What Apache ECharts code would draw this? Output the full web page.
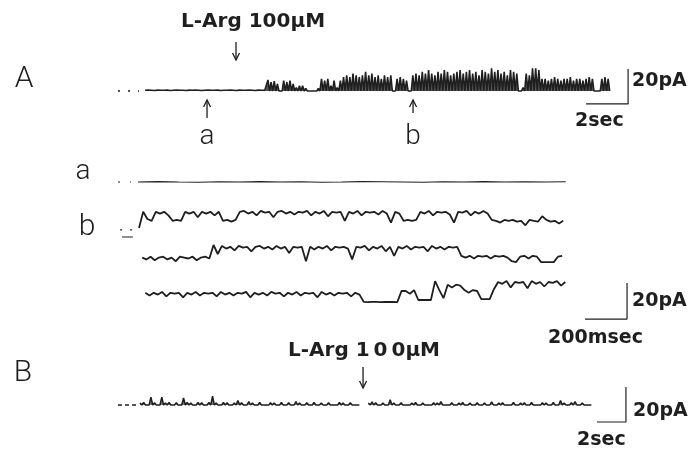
<!DOCTYPE html>
<html>
<head>
<meta charset="utf-8">
<title>L-Arg channel records</title>
<script src="https://cdn.jsdelivr.net/npm/echarts@6/dist/echarts.min.js"></script>
<style>html,body{margin:0;background:#fff;}</style>
</head>
<body>
<div id="main" style="width:694px;height:452px;"></div>
<script>
// trace A: height of openings above baseline (pA), one value every 0.15 s starting at 1.29 s
var tA0 = 1.29, dtA = 0.15;
var ampA = [0.4,0.5,0.4,0.3,0.5,0.4,0.4,0.5,0.3,0.4,0.5,0.4,0.4,0.3,0.5,0.4,0.5,0.4,0.3,0.4,
  0.5,0.4,0.4,0.5,0.3,0.4,0.4,0.5,0.4,0.3,0.5,0.4,0.4,0.5,0.4,0.3,0.5,0.4,
  0.5,6.3,5,5.7,4,1,6,5,6,4,2,3,
  3,1.5,0.5,1,0.5,1.5,
  7,6,7,3,
  6,2,6,
  8,9,8,10,9,8,9,11,9,
  10,
  8,9,7,9,8,9,
  1,
  7,8,7,6,
  1,
  9,10,9,11,10,12,10,9,11,10,12,11,9,10,11,12,
  10,11,12,10,11,9,12,11,10,13,11,12,10,11,9,12,11,10,
  1,2,
  10,9,
  13,13,12,
  7,7,6,7,8,7,6,7,7,8,6,7,7,6,7,8,7,
  0.5,0.5,
  7,8,7];

// trace a (ms, pA)
var ta0 = 95, dta = 97;
var traceSmall = [0,0.2,0,-0.1,0.1,0,0.2,0,0.1,-0.1,0,0.2,0.1,0,-0.1,0.1,0,0.2,0,0.1,0,0.1];

// trace b, three rows, one value every 20 ms (pA above closed level)
var dtb = 20;
var rowStart = [100, 115, 130];
var rowB1 = [5,14,10,9,14,13,14,12,9,9.5,
  9,14,13,14,11,14,13,14,12,14,
  9,9.5,8.5,9.5,14,14.5,13,14,12,14.5,
  13.5,14,11,14,14.5,13,14,12.5,14,13.5,
  14.5,12,14,13,14.5,11.5,14,13.5,14,9,
  14,13,14.5,12,14,13.5,14,12.5,14.5,13,
  8,14,13,9,9.5,9,9.5,14,13,14.5,
  12,14,13.5,14,12.5,8,14,13.5,14.5,12,
  14,13,14.5,13,9.5,9,8,9.5,9,9.5,
  8.5,9,6.5,9.5,9,8.5,11.5,9.5,8.5,9,
  7.5,9];
var rowB2 = [8,7,8.5,6.5,8,8.5,7,8,6,8.5,8,7.5,8.5,6.5,8,8.5,7.5,
  15,10,
  14.5,13,14,12,14.5,13.5,14,11.5,14,14.5,13,14,12.5,14.5,13,14,10.5,14,13.5,14,
  6,14,12.5,14,13,14.5,12,14,13.5,14,13,7,14,13.5,14.5,12,14,13,14.5,11.5,14,
  9,14,13,14.5,12.5,14,13.5,14,11.5,14.5,13,14,12.5,14,13.5,14,
  9,8,9,7.5,9,8.5,9,7.5,9,8.5,9,8,6,5.5,8.5,9,7.5,9,8.5,5.5,5.5,5.5,5.5,8.5,9];
var rowB3 = [14,12.5,14,13,14.5,12,14,13.5,14,11.5,
  14,13,14.5,12.5,14,13.5,14,12,14.5,13,
  14,12.5,14,13.5,14.5,11.5,14,13,14,12.5,
  14.5,13.5,14,12,14,13,14.5,12.5,14,13.5,
  14,11.5,14.5,13,14,12.5,14,13.5,14,12,
  14,13,
  9,8.8,9,9,8.8,9,8.9,9,8.8,
  15,
  15,13.5,15.5,
  10,10,10,10,
  20.5,
  15.5,11,
  18.5,17,18.5,18,
  15.5,14,15.5,15,
  10.5,10.5,10.5,
  16,
  20,19,20.5,17,20,19.5,20,16.5,20.5,19,20,17.5,20,19.5,20.5,18,20];

// trace B: openings (pA), one value every 0.25 s from 1.52 s; null = gap in the record
var tB0 = 1.52, dtB = 0.25;
var ampB = [1.2,1.5,1,4.5,1.3,1,4.5,1.2,1.5,1,
  1.3,1,4,1.5,1.2,1,1.4,1.3,1,1.5,
  5,1.2,1,1.5,1.3,1,1.2,2.5,1.3,1,
  2,1.2,1,1.4,1.1,1,1.3,1.2,1,1.4,
  1.1,1.3,1,2,1.2,1,1.3,1.1,1.4,1,
  1.2,1,1.3,1.1,1,1.4,1.2,1,1.3,1.1,
  1,null,null,1.2,1.8,1.3,1,1.2,1.1,3,
  1.2,1,1.3,1.1,1,1.2,1.4,1,1.2,1.1,
  1,1.3,1.2,2,1,1.1,1.3,1,1.2,1.4,
  1,1.2,1.1,1.3,1,1.2,1.1,1.8,1,1.2,
  1.3,1,1.1,1.5,1,1.2,1.3,1,1.4,1.1,
  1,1.3,1.2,1,1.5,1.1,2.5,1.2,1,1.3,
  2,1.1,1.2,1,1.1];

// event times
var eventsA = { lArg: 5.62, a: 4.24, b: 14.05 };
var eventB = 16.9;

// scale bars: [x length, y length, corner x, corner y]
var barA = [2, 20, 24.29, -7.4];
var barb = [200, 20, 2424, -0.6];
var barB = [2, 20, 35.03, -9.7];

var ink = '#1f1f1f';

function zigzag(t0, dt, tops) {
  var out = [];
  tops.forEach(function (v, i) {
    var t = t0 + i * dt;
    if (v == null) { out.push([t, '-']); out.push([t + dt / 2, '-']); }
    else { out.push([t, v]); out.push([t + dt / 2, 0]); }
  });
  return out;
}
function trace(t0, dt, vals) {
  return vals.map(function (v, i) { return [t0 + i * dt, v]; });
}
function bar(b) {
  return [[b[2] - b[0], b[3]], [b[2], b[3]], [b[2], b[3] + b[1]]];
}

// grid layout: top, bottom, baseline pixel, px per pA, px per time unit
var layout = [
  { top: 40, bottom: 112, base: 91, k: 1.75, sx: 21 },
  { top: 165, bottom: 195, base: 182, k: 1.8, sx: 0.21 },
  { top: 195, bottom: 245, base: 237, k: 1.8, sx: 0.21 },
  { top: 230, bottom: 280, base: 272, k: 1.8, sx: 0.21 },
  { top: 270, bottom: 325, base: 318, k: 1.8, sx: 0.21 },
  { top: 335, bottom: 430, base: 405, k: 1.75, sx: 14.5 }
];
var grids = [], xAxes = [], yAxes = [];
layout.forEach(function (g, i) {
  grids.push({ left: 118, width: 546, top: g.top, height: g.bottom - g.top });
  xAxes.push({ type: 'value', gridIndex: i, min: 0, max: 546 / g.sx, show: false });
  yAxes.push({ type: 'value', gridIndex: i, min: -(g.bottom - g.base) / g.k, max: (g.base - g.top) / g.k, show: false });
});

function line(gi, data, width, type, fill) {
  var s = {
    type: 'line', xAxisIndex: gi, yAxisIndex: gi, data: data, symbol: 'none',
    silent: true, connectNulls: false,
    lineStyle: { color: ink, width: width, type: type || 'solid' }
  };
  if (fill) s.areaStyle = { color: ink, opacity: fill, origin: 0 };
  return s;
}

var series = [
  line(0, zigzag(tA0, dtA, ampA), 1.6, null, 0.75),
  line(0, [[0, 0], [1.0, 0]], 1.6, [2, 8]),
  line(0, bar(barA), 1.2),
  line(1, trace(ta0, dta, traceSmall), 1.1),
  line(1, [[0, 0], [62, 0]], 1.2, [2, 10]),
  line(2, trace(rowStart[0], dtb, rowB1), 1.8),
  line(2, [[10, 4], [70, 4]], 1.2, [2, 8]),
  line(2, [[19, 0], [71, 0]], 1.2),
  line(3, trace(rowStart[1], dtb, rowB2), 1.8),
  line(4, trace(rowStart[2], dtb, rowB3), 1.8),
  line(4, bar(barb), 1.2),
  line(5, zigzag(tB0, dtB, ampB), 1.5, null, 0.6),
  line(5, [[0, 0], [1.3, 0]], 1.4, [4, 3]),
  line(5, bar(barB), 1.2)
];

var chart = echarts.init(document.getElementById('main'));
chart.setOption({
  animation: false,
  backgroundColor: '#fff',
  grid: grids, xAxis: xAxes, yAxis: yAxes,
  series: series
});

function txt(x, y, s, font, align) {
  return { type: 'text', x: x, y: y, silent: true,
    style: { text: s, font: font, fill: ink, textAlign: align || 'left', textVerticalAlign: 'middle' } };
}
function arrow(x, y1, y2) {
  var d = y2 > y1 ? -1 : 1;
  return { type: 'group', silent: true, children: [
    { type: 'line', shape: { x1: x, y1: y1, x2: x, y2: y2 }, style: { stroke: ink, lineWidth: 1.3 } },
    { type: 'polyline', shape: { points: [[x - 3.5, y2 + d * 7], [x, y2], [x + 3.5, y2 + d * 7]] },
      style: { stroke: ink, lineWidth: 1.3, fill: null } }
  ] };
}
var px = function (gi, t) { return chart.convertToPixel({ gridIndex: gi }, [t, 0])[0]; };
var xL = px(0, eventsA.lArg), xa = px(0, eventsA.a), xb = px(0, eventsA.b), xB = px(5, eventB);

var bigFont = '300 30px Roboto';
var labFont = 'bold 20px "DejaVu Sans"';
var scFont = 'bold 19px "DejaVu Sans"';
chart.setOption({
  graphic: [
    txt(181, 22, 'L-Arg 100\u03bcM', labFont),
    arrow(xL, 42, 60),
    txt(24, 79, 'A', bigFont, 'center'),
    arrow(xa, 118, 100),
    arrow(xb, 113, 100),
    txt(xa, 137, 'a', '300 28px Roboto', 'center'),
    txt(xb, 137, 'b', '300 28px Roboto', 'center'),
    txt(632, 81, '20pA', scFont),
    txt(575, 121, '2sec', scFont),
    txt(83, 172, 'a', '300 28px Roboto', 'center'),
    txt(87, 227, 'b', '300 30px Roboto', 'center'),
    txt(632, 301, '20pA', scFont),
    txt(548, 338, '200msec', scFont),
    txt(23, 373, 'B', bigFont, 'center'),
    txt(288, 351, 'L-Arg 1\u20090\u20090\u03bcM', labFont),
    arrow(xB, 367, 388),
    txt(633, 411, '20pA', scFont),
    txt(577, 440, '2sec', scFont)
  ]
});
</script>
</body>
</html>
